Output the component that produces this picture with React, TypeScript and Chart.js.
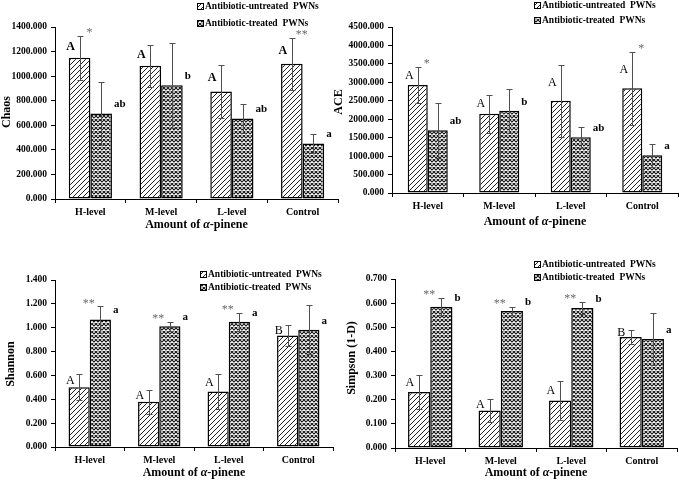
import React, { useEffect, useRef } from 'react';
import { Chart, registerables } from 'chart.js';

Chart.register(...registerables);

const FONT = '"Liberation Serif", "Times New Roman", serif';

const categories = ['H-level', 'M-level', 'L-level', 'Control'];
const seriesNames = ['Antibiotic-untreated  PWNs', 'Antibiotic-treated  PWNs'];
const xTitleParts = ['Amount of ', 'α', '-pinene'];

// Chaos
const chaosUntreated = [1150, 1085, 875, 1100];
const chaosUntreatedErr = [180, 170, 215, 210];
const chaosTreated = [695, 925, 655, 452];
const chaosTreatedErr = [258, 345, 120, 80];
const chaosUpper = ['A', 'A', 'A', 'A'];
const chaosLower = ['ab', 'b', 'ab', 'a'];
const chaosStars = ['*', '', '', '**'];
const chaosAxis = [0, 1400, 200];

// ACE
const aceUntreated = [2930, 2150, 2500, 2840];
const aceUntreatedErr = [490, 510, 980, 990];
const aceTreated = [1700, 2230, 1510, 1020];
const aceTreatedErr = [745, 590, 290, 310];
const aceUpper = ['A', 'A', 'A', 'A'];
const aceLower = ['ab', 'b', 'ab', 'a'];
const aceStars = ['*', '', '', '*'];
const aceAxis = [0, 4500, 500];

// Shannon
const shannonUntreated = [0.5, 0.38, 0.465, 0.935];
const shannonUntreatedErr = [0.11, 0.1, 0.15, 0.085];
const shannonTreated = [1.068, 1.012, 1.05, 0.982];
const shannonTreatedErr = [0.11, 0.038, 0.075, 0.205];
const shannonUpper = ['A', 'A', 'A', 'B'];
const shannonLower = ['a', 'a', 'a', 'a'];
const shannonStars = ['**', '**', '**', ''];
const shannonAxis = [0, 1.4, 0.2];

// Simpson
const simpsonUntreated = [0.232, 0.155, 0.197, 0.46];
const simpsonUntreatedErr = [0.072, 0.048, 0.08, 0.03];
const simpsonTreated = [0.585, 0.567, 0.58, 0.451];
const simpsonTreatedErr = [0.035, 0.016, 0.024, 0.108];
const simpsonUpper = ['A', 'A', 'A', 'B'];
const simpsonLower = ['b', 'b', 'b', 'a'];
const simpsonStars = ['**', '**', '**', ''];
const simpsonAxis = [0, 0.7, 0.1];

type Panel = {
  yTitle: string;
  untreated: number[];
  untreatedErr: number[];
  treated: number[];
  treatedErr: number[];
  upper: string[];
  lower: string[];
  stars: string[];
  axis: number[];
  box: { left: number; top: number; width: number; height: number };
  pad: { left: number; right: number; top: number };
  yWidth: number;
  xHeight: number;
  catPct: number;
  yTitlePos: [number, number];
  xTitleY: number;
  legend: [number, number, number];
  upperBold: boolean;
};

const panels: Panel[] = [
  {
    yTitle: 'Chaos',
    untreated: chaosUntreated, untreatedErr: chaosUntreatedErr,
    treated: chaosTreated, treatedErr: chaosTreatedErr,
    upper: chaosUpper, lower: chaosLower, stars: chaosStars, axis: chaosAxis,
    box: { left: 0, top: 0, width: 340, height: 240 },
    pad: { left: 0, right: 2, top: 27 }, yWidth: 55, xHeight: 41, catPct: 0.61,
    yTitlePos: [7, 112], xTitleY: 225, legend: [197, 6, 23], upperBold: true,
  },
  {
    yTitle: 'ACE',
    untreated: aceUntreated, untreatedErr: aceUntreatedErr,
    treated: aceTreated, treatedErr: aceTreatedErr,
    upper: aceUpper, lower: aceLower, stars: aceStars, axis: aceAxis,
    box: { left: 330, top: 0, width: 349, height: 240 },
    pad: { left: 0, right: 1, top: 27 }, yWidth: 62, xHeight: 47, catPct: 0.56,
    yTitlePos: [9, 102], xTitleY: 222, legend: [204, 5, 20], upperBold: false,
  },
  {
    yTitle: 'Shannon',
    untreated: shannonUntreated, untreatedErr: shannonUntreatedErr,
    treated: shannonTreated, treatedErr: shannonTreatedErr,
    upper: shannonUpper, lower: shannonLower, stars: shannonStars, axis: shannonAxis,
    box: { left: 0, top: 240, width: 340, height: 241 },
    pad: { left: 0, right: 7, top: 40 }, yWidth: 55, xHeight: 34, catPct: 0.61,
    yTitlePos: [11, 124], xTitleY: 233, legend: [200, 34, 47], upperBold: false,
  },
  {
    yTitle: 'Simpson (1-D)',
    untreated: simpsonUntreated, untreatedErr: simpsonUntreatedErr,
    treated: simpsonTreated, treatedErr: simpsonTreatedErr,
    upper: simpsonUpper, lower: simpsonLower, stars: simpsonStars, axis: simpsonAxis,
    box: { left: 330, top: 240, width: 349, height: 241 },
    pad: { left: 0, right: 2, top: 39 }, yWidth: 65, xHeight: 33, catPct: 0.63,
    yTitlePos: [22, 118], xTitleY: 233, legend: [204, 24, 37], upperBold: false,
  },
];

function makeDiag(): CanvasPattern {
  const c = document.createElement('canvas');
  c.width = 5; c.height = 5;
  const g = c.getContext('2d')!;
  g.fillStyle = '#fff';
  g.fillRect(0, 0, 5, 5);
  g.strokeStyle = '#222';
  g.lineWidth = 1;
  g.beginPath();
  g.moveTo(-1, 6); g.lineTo(6, -1);
  g.moveTo(-1, 1); g.lineTo(1, -1);
  g.moveTo(4, 6); g.lineTo(6, 4);
  g.stroke();
  return g.createPattern(c, 'repeat')!;
}

function makeCross(): CanvasPattern {
  const c = document.createElement('canvas');
  c.width = 4; c.height = 4;
  const g = c.getContext('2d')!;
  g.fillStyle = '#fff';
  g.fillRect(0, 0, 4, 4);
  g.strokeStyle = '#1a1a1a';
  g.lineWidth = 1.15;
  g.beginPath();
  g.moveTo(-1, -1); g.lineTo(5, 5);
  g.moveTo(-1, 5); g.lineTo(5, -1);
  g.stroke();
  return g.createPattern(c, 'repeat')!;
}

function PanelChart({ p }: { p: Panel }) {
  const ref = useRef<HTMLCanvasElement | null>(null);
  useEffect(() => {
    const canvas = ref.current;
    if (!canvas) return;
    const diag = makeDiag();
    const cross = makeCross();
    const errs = [p.untreatedErr, p.treatedErr];

    const decor = {
      id: 'decor',
      afterDatasetsDraw(chart: any) {
        const ctx: CanvasRenderingContext2D = chart.ctx;
        const y = chart.scales.y;
        const m0 = chart.getDatasetMeta(0).data;
        const m1 = chart.getDatasetMeta(1).data;
        ctx.save();
        // error bars
        [0, 1].forEach((di) => {
          const vals = chart.data.datasets[di].data as number[];
          chart.getDatasetMeta(di).data.forEach((bar: any, i: number) => {
            const v = vals[i];
            const e = errs[di][i];
            const x = Math.round(bar.x) + 0.5;
            const yt = Math.round(y.getPixelForValue(v + e)) + 0.5;
            const yb = Math.round(y.getPixelForValue(v - e)) + 0.5;
            ctx.strokeStyle = '#505050';
            ctx.lineWidth = 1;
            ctx.beginPath();
            ctx.moveTo(x, yt); ctx.lineTo(x, yb);
            ctx.moveTo(x - 3, yt); ctx.lineTo(x + 3, yt);
            ctx.moveTo(x - 3, yb); ctx.lineTo(x + 3, yb);
            ctx.stroke();
          });
        });
        // letters
        ctx.fillStyle = '#000';
        ctx.textBaseline = 'middle';
        m0.forEach((bar: any, i: number) => {
          const et = y.getPixelForValue(p.untreated[i] + p.untreatedErr[i]);
          ctx.font = `${p.upperBold ? 'bold ' : ''}12px ${FONT}`;
          ctx.textAlign = 'center';
          ctx.fillText(p.upper[i], bar.x - bar.width * 0.42, (bar.y + et) / 2);
        });
        m1.forEach((bar: any, i: number) => {
          ctx.font = `bold 11px ${FONT}`;
          ctx.textAlign = 'left';
          ctx.fillText(p.lower[i], bar.x + bar.width / 2 + 2, bar.y - 9);
        });
        // significance stars
        m0.forEach((bar: any, i: number) => {
          if (!p.stars[i]) return;
          const b1 = m1[i];
          const t0 = y.getPixelForValue(p.untreated[i] + p.untreatedErr[i]);
          const t1 = y.getPixelForValue(p.treated[i] + p.treatedErr[i]);
          const top = Math.min(t0, t1);
          ctx.font = `12px ${FONT}`;
          ctx.fillStyle = '#6a6a6a';
          ctx.textAlign = 'center';
          ctx.fillText(p.stars[i], (bar.x + b1.x) / 2 - 1, top - 3);
        });
        ctx.restore();
      },
      afterDraw(chart: any) {
        const ctx: CanvasRenderingContext2D = chart.ctx;
        const area = chart.chartArea;
        ctx.save();
        ctx.fillStyle = '#000';
        // legend
        const [lx, ly1, ly2] = p.legend;
        [diag, cross].forEach((pat, k) => {
          const yy = k === 0 ? ly1 : ly2;
          ctx.fillStyle = pat;
          ctx.fillRect(lx, yy - 3, 6, 6);
          ctx.strokeStyle = '#000';
          ctx.lineWidth = 1;
          ctx.strokeRect(lx + 0.5, yy - 2.5, 6, 6);
          ctx.fillStyle = '#000';
          ctx.font = `bold 9.5px ${FONT}`;
          ctx.textAlign = 'left';
          ctx.textBaseline = 'middle';
          ctx.fillText(seriesNames[k], lx + 8, yy + 0.5);
        });
        // y title
        ctx.save();
        ctx.translate(p.yTitlePos[0], p.yTitlePos[1]);
        ctx.rotate(-Math.PI / 2);
        ctx.font = `bold 12px ${FONT}`;
        ctx.textAlign = 'center';
        ctx.textBaseline = 'middle';
        ctx.fillText(p.yTitle, 0, 0);
        ctx.restore();
        // x title
        const fonts = [`bold 12px ${FONT}`, `italic bold 12px ${FONT}`, `bold 12px ${FONT}`];
        let total = 0;
        const widths = xTitleParts.map((t, k) => {
          ctx.font = fonts[k];
          const w = ctx.measureText(t).width;
          total += w;
          return w;
        });
        let x = (area.left + area.right) / 2 - total / 2;
        ctx.textAlign = 'left';
        ctx.textBaseline = 'middle';
        xTitleParts.forEach((t, k) => {
          ctx.font = fonts[k];
          ctx.fillText(t, x, p.xTitleY);
          x += widths[k];
        });
        ctx.restore();
      },
    };

    const chart = new Chart(canvas, {
      type: 'bar',
      data: {
        labels: categories,
        datasets: [
          {
            label: seriesNames[0],
            data: p.untreated,
            backgroundColor: diag as any,
            borderColor: '#000',
            borderWidth: 1.5,
            borderSkipped: false,
            categoryPercentage: p.catPct,
            barPercentage: 1,
          },
          {
            label: seriesNames[1],
            data: p.treated,
            backgroundColor: cross as any,
            borderColor: '#000',
            borderWidth: 1.5,
            borderSkipped: false,
            categoryPercentage: p.catPct,
            barPercentage: 1,
          },
        ],
      },
      options: {
        responsive: false,
        animation: false,
        devicePixelRatio: 1,
        events: [],
        layout: { padding: { left: p.pad.left, right: p.pad.right, top: p.pad.top, bottom: 0 } },
        plugins: { legend: { display: false }, tooltip: { enabled: false } },
        scales: {
          x: {
            afterFit: (s: any) => { s.height = p.xHeight; },
            grid: { display: true, drawOnChartArea: false, drawTicks: true, tickLength: 4, color: '#000', offset: true },
            border: { display: true, color: '#000', width: 1 },
            ticks: { color: '#000', padding: 3, font: { family: FONT, size: 10, weight: 'bold' } },
          },
          y: {
            min: p.axis[0],
            max: p.axis[1],
            afterFit: (s: any) => { s.width = p.yWidth; },
            grid: { display: true, drawOnChartArea: false, drawTicks: true, tickLength: 4, color: '#000' },
            border: { display: true, color: '#000', width: 1 },
            ticks: {
              stepSize: p.axis[2],
              color: '#000',
              padding: 4,
              font: { family: FONT, size: 9.5, weight: 'bold' },
              callback: (v: any) => Number(v).toFixed(3),
            },
          },
        },
      } as any,
      plugins: [decor],
    });
    return () => chart.destroy();
  }, [p]);

  return (
    <canvas
      ref={ref}
      width={p.box.width}
      height={p.box.height}
      style={{
        position: 'absolute',
        left: p.box.left,
        top: p.box.top,
        width: p.box.width,
        height: p.box.height,
      }}
    />
  );
}

export default function App() {
  return (
    <div style={{ position: 'absolute', left: 0, top: 0, width: 679, height: 481, background: '#fff', overflow: 'hidden' }}>
      {panels.map((p, i) => (
        <PanelChart key={i} p={p} />
      ))}
    </div>
  );
}
